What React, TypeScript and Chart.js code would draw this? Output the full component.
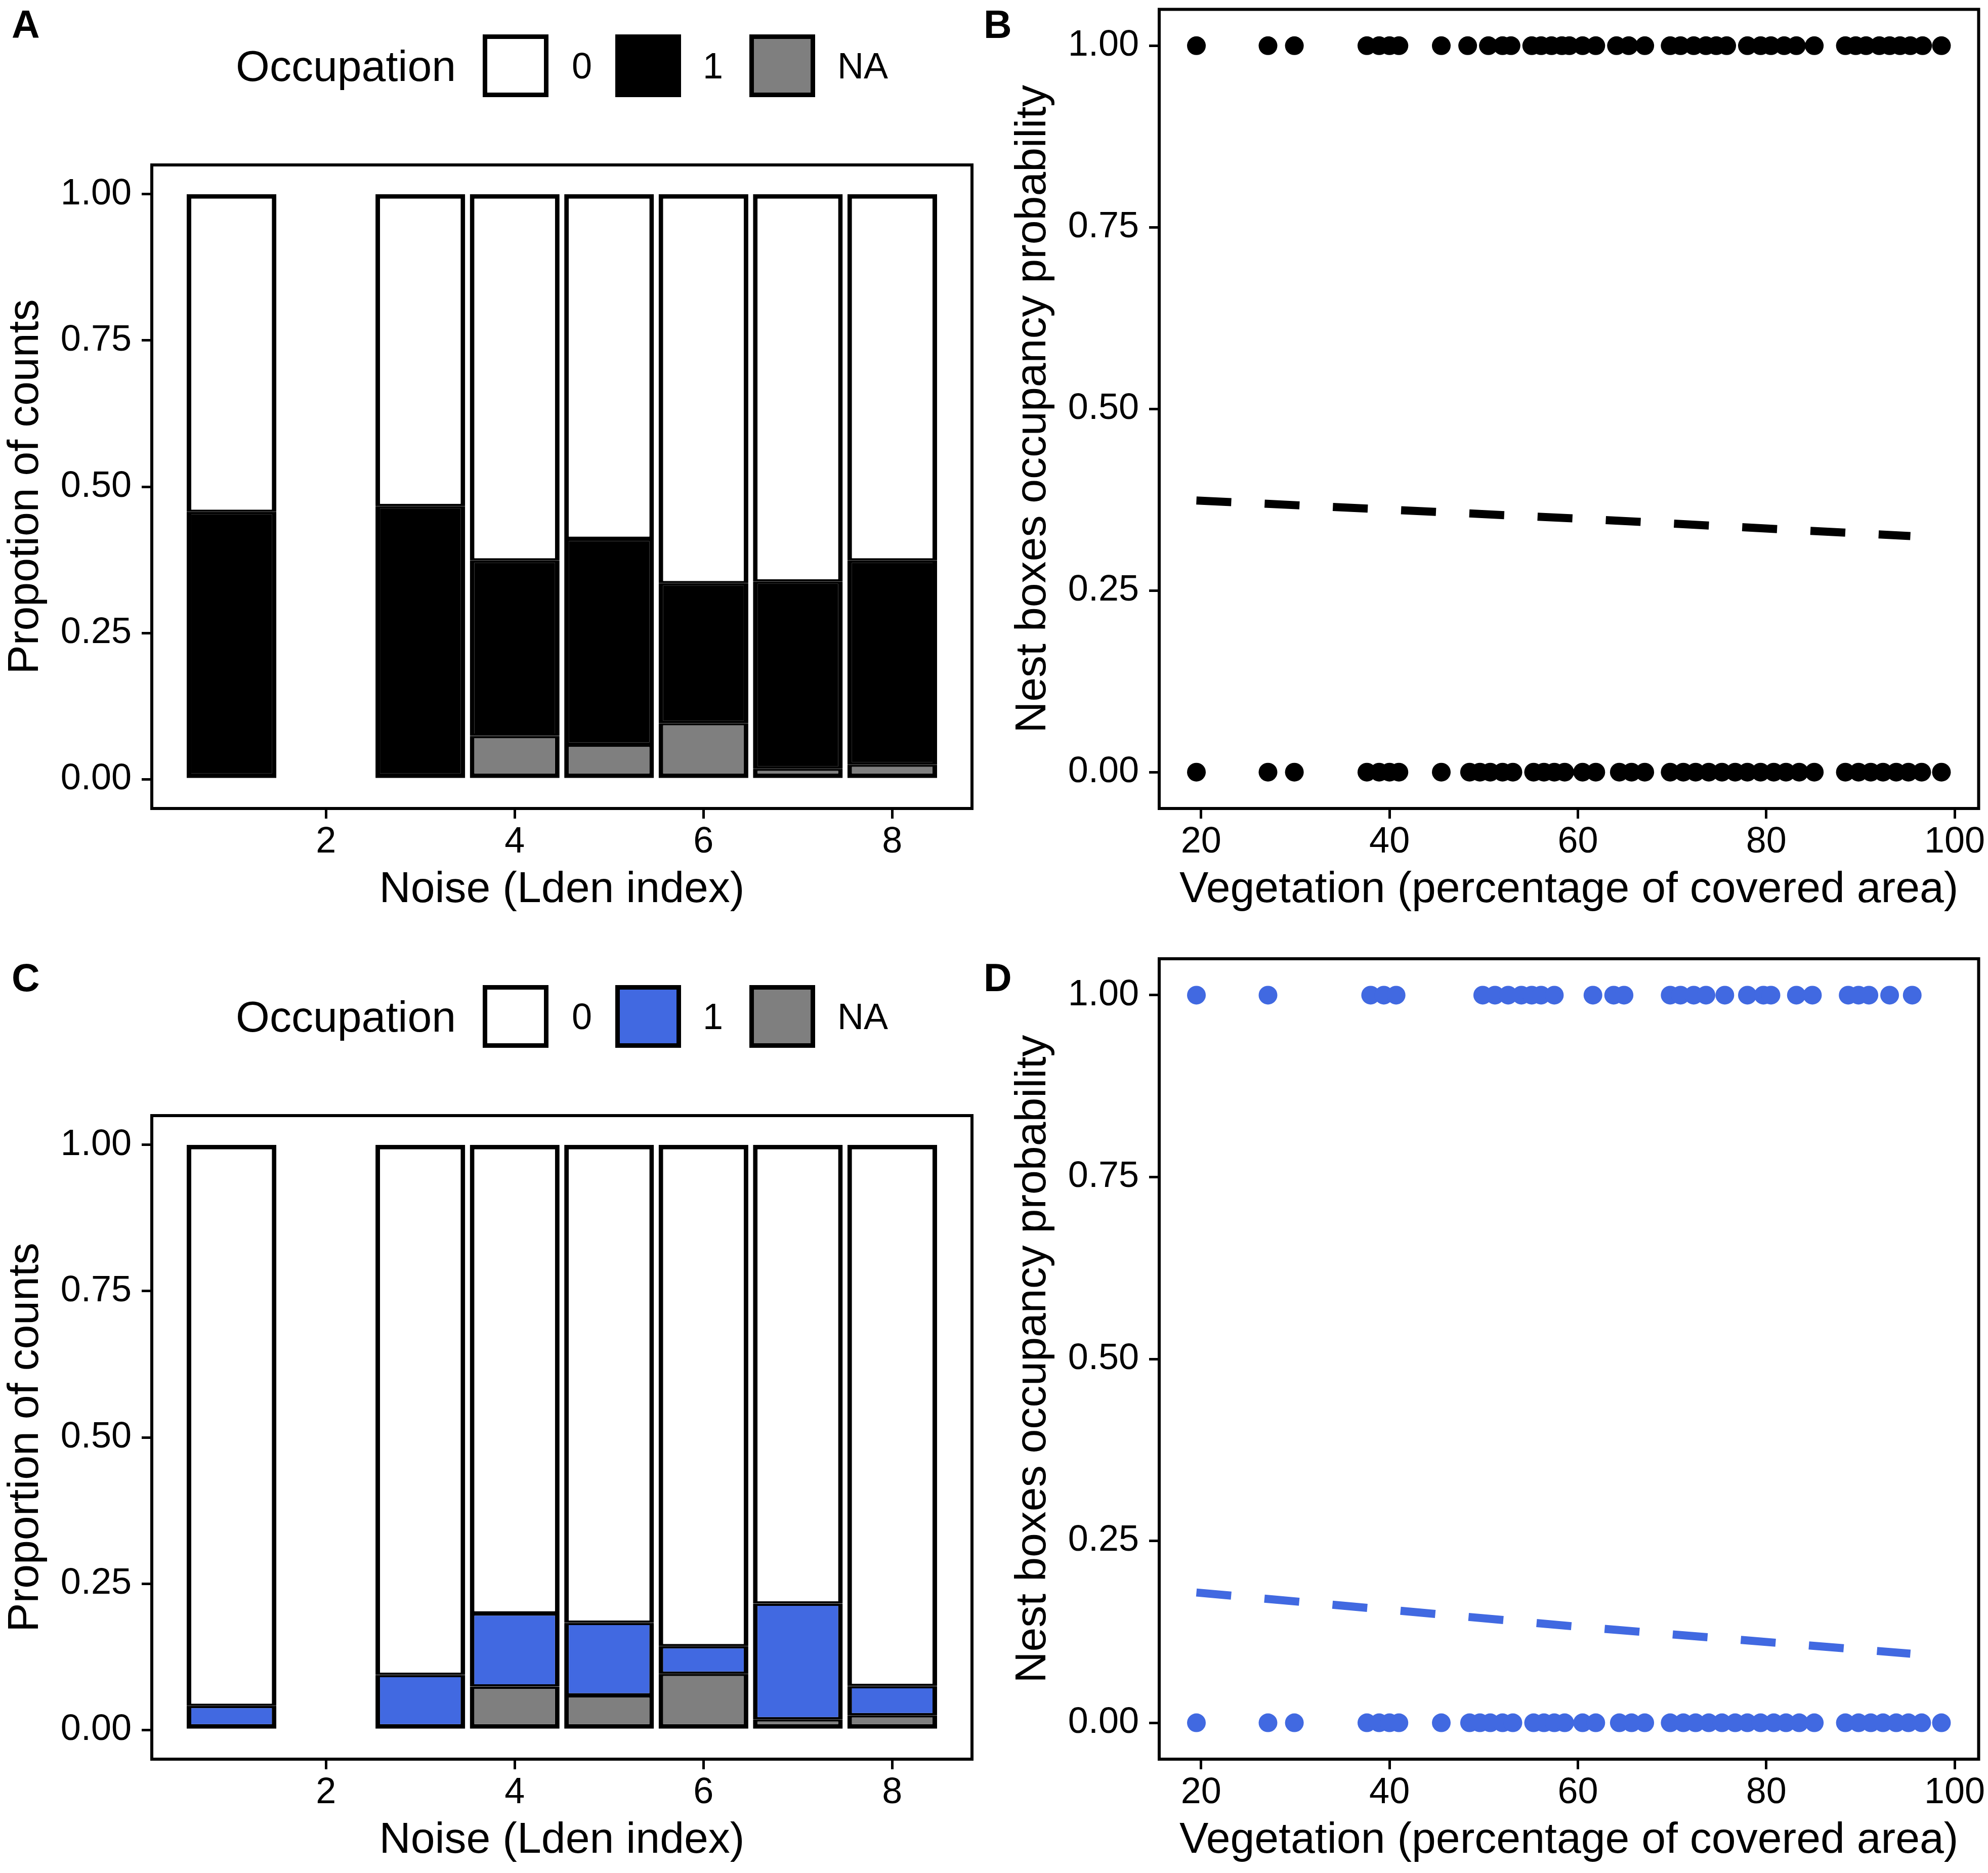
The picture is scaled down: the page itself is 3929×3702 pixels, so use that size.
import React, { useEffect, useRef } from "react";
import { Chart, registerables } from "chart.js";

Chart.register(...registerables);

const FONT = '"Liberation Sans", Arial, Helvetica, sans-serif';
const BLUE = "#4169E1";
const GREY = "#7F7F7F";

// ---- data ----
const noiseLevels = [1, 3, 4, 5, 6, 7, 8];
const noiseTicks = [2, 4, 6, 8];
const proportionTicks = [0, 0.25, 0.5, 0.75, 1];
const vegetationTicks = [20, 40, 60, 80, 100];
const occupationLabels = ["0", "1", "NA"];

// A: proportion of counts per noise class
const aZero = [0.543, 0.533, 0.626, 0.589, 0.665, 0.662, 0.626];
const aOne = [0.457, 0.467, 0.3, 0.352, 0.239, 0.32, 0.349];
const aNA = [0, 0, 0.074, 0.059, 0.096, 0.018, 0.025];

// C: same, blue species
const cZero = [0.959, 0.906, 0.801, 0.817, 0.857, 0.784, 0.925];
const cOne = [0.041, 0.094, 0.125, 0.124, 0.047, 0.198, 0.05];
const cNA = [0, 0, 0.074, 0.059, 0.096, 0.018, 0.025];

// B: vegetation cover of nest boxes, occupied (1) / not occupied (0)
const bOccupied = [
  19.5, 27.1, 29.9, 37.6, 38.9, 40.0, 41.0, 45.5, 48.3, 50.5, 52.0, 52.9, 55.1, 56.1, 57.2,
  58.3, 59.1, 60.5, 61.9, 64.1, 65.4, 67.1, 69.8, 70.9, 72.3, 73.6, 74.7, 75.8, 78.0, 79.4,
  80.5, 81.9, 83.2, 85.1, 88.4, 89.5, 90.6, 92.0, 93.1, 94.2, 95.3, 96.6, 98.6,
];
const bEmpty = [
  19.5, 27.1, 29.9, 37.6, 38.9, 40.0, 41.0, 45.5, 48.5, 49.6, 50.7, 52.0, 53.1, 55.3, 56.4,
  57.5, 58.6, 60.5, 61.9, 64.4, 65.7, 67.1, 69.8, 71.2, 72.5, 73.9, 75.3, 76.7, 78.0, 79.4,
  80.8, 82.1, 83.5, 85.1, 88.4, 89.8, 91.1, 92.4, 93.8, 95.1, 96.5, 98.6,
];

// D: same, blue species
const dOccupied = [
  19.5, 27.1, 38.0, 39.4, 40.7, 49.9, 51.2, 52.6, 54.0, 55.1, 56.1, 57.5, 61.6, 63.8, 64.9,
  69.8, 70.9, 72.3, 73.6, 75.6, 78.0, 79.7, 80.5, 83.2, 84.9, 88.7, 89.8, 90.9, 93.1, 95.5,
];
const dEmpty = [
  19.5, 27.1, 29.9, 37.6, 38.9, 40.0, 41.0, 45.5, 48.5, 49.6, 50.7, 52.0, 53.1, 55.3, 56.4,
  57.5, 58.6, 60.5, 61.9, 64.4, 65.7, 67.1, 69.8, 71.2, 72.5, 73.9, 75.3, 76.7, 78.0, 79.4,
  80.8, 82.1, 83.5, 85.1, 88.4, 89.8, 91.1, 92.4, 93.8, 95.1, 96.5, 98.6,
];

// fitted occupancy probability
const trendX = [19.5, 60, 95.3];
const bTrend = [0.374, 0.349, 0.325];
const dTrend = [0.179, 0.132, 0.095];

// ---- layout ----
const TITLE_SIZE = 86;
const TICK_SIZE = 72;
const BAR_LINE = 9;

type Box = { left: number; top: number; width: number; height: number };
type Area = { l: number; t: number; r: number; b: number };
type Frame = { canvas: Box; area: Area };

const frameA: Frame = { canvas: { left: 0, top: 0, width: 1964, height: 1851 }, area: { l: 300, t: 326, r: 1921, b: 1598 } };
const frameB: Frame = { canvas: { left: 1964, top: 0, width: 1965, height: 1851 }, area: { l: 2291, t: 16, r: 3916, b: 1598 } };
const frameC: Frame = { canvas: { left: 0, top: 1851, width: 1964, height: 1851 }, area: { l: 300, t: 2205, r: 1921, b: 3477 } };
const frameD: Frame = { canvas: { left: 1964, top: 1851, width: 1965, height: 1851 }, area: { l: 2291, t: 1895, r: 3916, b: 3477 } };

function geometry(f: Frame) {
  const right = f.canvas.left + f.canvas.width;
  const bottom = f.canvas.top + f.canvas.height;
  return {
    padding: { left: 0, top: f.area.t - f.canvas.top, right: right - f.area.r, bottom: 0 },
    yWidth: f.area.l - f.canvas.left,
    xHeight: bottom - f.area.b,
    yTitlePad: f.area.l - 249 - f.canvas.left - TITLE_SIZE / 2,
    xTitlePad: bottom - (f.area.b + 161) - TITLE_SIZE / 2,
  };
}

function axis(o: any) {
  const horizontal = o.pos === "x";
  return {
    type: "linear",
    position: horizontal ? "bottom" : "left",
    min: o.min,
    max: o.max,
    stacked: !!o.stacked,
    offset: false,
    afterBuildTicks: (s: any) => {
      s.ticks = o.ticks.map((value: number) => ({ value }));
    },
    afterFit: (s: any) => {
      if (horizontal) {
        s.height = o.size;
        s.paddingLeft = 0;
        s.paddingRight = 0;
      } else {
        s.width = o.size;
        s.paddingTop = 0;
        s.paddingBottom = 0;
      }
    },
    grid: { drawOnChartArea: false, drawTicks: true, tickLength: 20, color: "#000", lineWidth: 5, offset: false },
    border: { display: false },
    ticks: {
      color: "#000",
      font: { family: FONT, size: TICK_SIZE },
      padding: horizontal ? 4 : 20,
      autoSkip: false,
      maxRotation: 0,
      callback: o.fmt,
    },
    title: {
      display: true,
      text: o.title,
      color: "#000",
      font: { family: FONT, size: TITLE_SIZE, lineHeight: 1 },
      padding: horizontal ? { top: 0, bottom: o.titlePad } : { top: o.titlePad, bottom: 0 },
    },
  };
}

const panelBox = {
  id: "panelBox",
  afterDatasetsDraw(chart: any) {
    const { ctx, chartArea: a } = chart;
    ctx.save();
    ctx.strokeStyle = "#000";
    ctx.lineWidth = 6;
    ctx.strokeRect(a.left, a.top, a.right - a.left, a.bottom - a.top);
    ctx.restore();
  },
};

// outline shared between stacked segments is split in two halves,
// so the dividing line sits on the boundary
const segmentBorder = (ctx: any) => {
  if (ctx.dataIndex == null) return BAR_LINE;
  const sets = ctx.chart.data.datasets;
  let below = 0;
  let above = 0;
  sets.forEach((s: any, k: number) => {
    const v = s.data[ctx.dataIndex].y;
    if (k < ctx.datasetIndex) below += v;
    if (k > ctx.datasetIndex) above += v;
  });
  return {
    top: above > 0 ? BAR_LINE / 2 : BAR_LINE,
    left: BAR_LINE,
    right: BAR_LINE,
    bottom: below > 0 ? BAR_LINE / 2 : BAR_LINE,
  };
};

const fixed2 = (v: any) => Number(v).toFixed(2);
const plain = (v: any) => String(v);

function barConfig(f: Frame, fills: string[], values: number[][], yTitle: string) {
  const g = geometry(f);
  const order = [2, 1, 0]; // NA at the bottom, 0 on top
  return {
    type: "bar",
    data: {
      datasets: order.map((k) => ({
        label: occupationLabels[k],
        data: noiseLevels.map((x, i) => ({ x, y: values[k][i] })),
        backgroundColor: fills[k],
        borderColor: "#000",
        borderWidth: segmentBorder,
        borderSkipped: false,
        barPercentage: 0.95,
        categoryPercentage: 1,
      })),
    },
    options: {
      responsive: false,
      animation: false,
      events: [],
      devicePixelRatio: 1,
      layout: { padding: g.padding },
      plugins: { legend: { display: false }, tooltip: { enabled: false } },
      scales: {
        x: axis({ pos: "x", ticks: noiseTicks, min: 0.155, max: 8.845, stacked: true, fmt: plain, title: "Noise (Lden index)", size: g.xHeight, titlePad: g.xTitlePad }),
        y: axis({ pos: "y", ticks: proportionTicks, min: -0.05, max: 1.05, stacked: true, fmt: fixed2, title: yTitle, size: g.yWidth, titlePad: g.yTitlePad }),
      },
    },
    plugins: [panelBox],
  };
}

function scatterConfig(f: Frame, color: string, occupied: number[], empty: number[], trend: number[]) {
  const g = geometry(f);
  return {
    type: "scatter",
    data: {
      datasets: [
        {
          label: "boxes",
          data: [...occupied.map((x) => ({ x, y: 1 })), ...empty.map((x) => ({ x, y: 0 }))],
          pointRadius: 18.5,
          pointBackgroundColor: color,
          pointBorderWidth: 0,
          showLine: false,
        },
        {
          label: "fit",
          data: trendX.map((x, i) => ({ x, y: trend[i] })),
          showLine: true,
          borderColor: color,
          borderWidth: 16,
          borderDash: [69, 66],
          pointRadius: 0,
          fill: false,
        },
      ],
    },
    options: {
      responsive: false,
      animation: false,
      events: [],
      devicePixelRatio: 1,
      layout: { padding: g.padding },
      plugins: { legend: { display: false }, tooltip: { enabled: false } },
      scales: {
        x: axis({ pos: "x", ticks: vegetationTicks, min: 15.55, max: 102.55, fmt: plain, title: "Vegetation (percentage of covered area)", size: g.xHeight, titlePad: g.xTitlePad }),
        y: axis({ pos: "y", ticks: proportionTicks, min: -0.05, max: 1.05, fmt: fixed2, title: "Nest boxes occupancy probability", size: g.yWidth, titlePad: g.yTitlePad }),
      },
    },
    plugins: [panelBox],
  };
}

const ChartCanvas = ({ box, config }: { box: Box; config: () => any }) => {
  const ref = useRef<HTMLCanvasElement | null>(null);

  useEffect(() => {
    const ctx = ref.current?.getContext("2d");
    if (!ctx) return;
    const chart = new Chart(ctx, config());
    return () => {
      chart.destroy();
    };
  }, []);

  return (
    <canvas
      ref={ref}
      width={box.width}
      height={box.height}
      style={{ position: "absolute", left: box.left, top: box.top, width: box.width, height: box.height }}
    />
  );
};

const KEY_W = 130;
const KEY_H = 124;
const KEY_LEFTS = [954, 1216, 1481];
const LABEL_LEFTS = [1130, 1389, 1655];

const Legend = ({ top, fills }: { top: number; fills: string[] }) => (
  <>
    <span style={{ position: "absolute", left: 466, top, fontSize: TITLE_SIZE, lineHeight: `${KEY_H}px`, whiteSpace: "nowrap" }}>
      Occupation
    </span>
    {occupationLabels.map((lab, k) => (
      <React.Fragment key={lab}>
        <div
          style={{
            position: "absolute",
            left: KEY_LEFTS[k],
            top,
            width: KEY_W,
            height: KEY_H,
            boxSizing: "border-box",
            border: `${BAR_LINE}px solid #000`,
            background: fills[k],
          }}
        />
        <span style={{ position: "absolute", left: LABEL_LEFTS[k], top, fontSize: TICK_SIZE, lineHeight: `${KEY_H}px` }}>{lab}</span>
      </React.Fragment>
    ))}
  </>
);

const Letter = ({ text, left, capTop }: { text: string; left: number; capTop: number }) => (
  <span style={{ position: "absolute", left, top: capTop - 10, fontSize: 77, lineHeight: "77px", fontWeight: 700 }}>{text}</span>
);

export default function App() {
  return (
    <div
      style={{
        position: "absolute",
        left: 0,
        top: 0,
        width: 3929,
        height: 3702,
        background: "#fff",
        overflow: "hidden",
        fontFamily: FONT,
        color: "#000",
      }}
    >
      <ChartCanvas box={frameA.canvas} config={() => barConfig(frameA, ["#ffffff", "#000000", GREY], [aZero, aOne, aNA], "Propotion of counts")} />
      <ChartCanvas box={frameB.canvas} config={() => scatterConfig(frameB, "#000000", bOccupied, bEmpty, bTrend)} />
      <ChartCanvas box={frameC.canvas} config={() => barConfig(frameC, ["#ffffff", BLUE, GREY], [cZero, cOne, cNA], "Proportion of counts")} />
      <ChartCanvas box={frameD.canvas} config={() => scatterConfig(frameD, BLUE, dOccupied, dEmpty, dTrend)} />
      <Legend top={68} fills={["#ffffff", "#000000", GREY]} />
      <Legend top={1947} fills={["#ffffff", BLUE, GREY]} />
      <Letter text="A" left={23} capTop={20} />
      <Letter text="B" left={1944} capTop={20} />
      <Letter text="C" left={23} capTop={1904} />
      <Letter text="D" left={1944} capTop={1904} />
    </div>
  );
}
